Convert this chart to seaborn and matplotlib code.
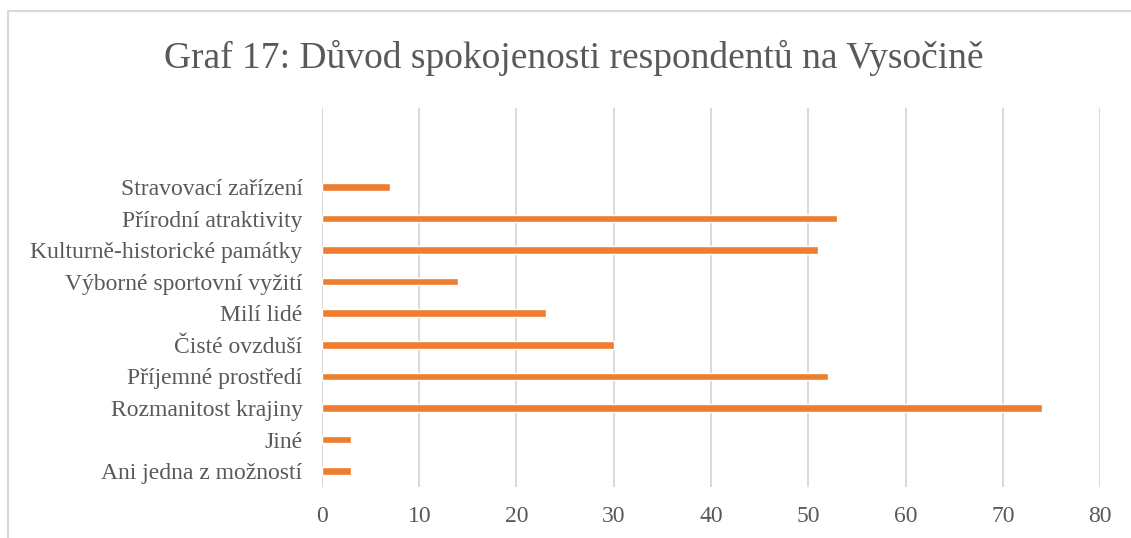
import matplotlib
matplotlib.use("Agg")
import matplotlib.pyplot as plt
from matplotlib.patches import Rectangle
import pandas as pd
import seaborn as sns

# data
categories = [
    "Stravovací zařízení",
    "Přírodní atraktivity",
    "Kulturně-historické památky",
    "Výborné sportovní vyžití",
    "Milí lidé",
    "Čisté ovzduší",
    "Příjemné prostředí",
    "Rozmanitost krajiny",
    "Jiné",
    "Ani jedna z možností",
]
counts = [7, 53, 51, 14, 23, 30, 52, 74, 3, 3]
x_ticks = [0, 10, 20, 30, 40, 50, 60, 70, 80]
title = "Graf 17: Důvod spokojenosti respondentů na Vysočině"

BAR_COLOR = "#ED7D31"
GRID_COLOR = "#D9D9D9"
TEXT_COLOR = "#595959"

sns.set_theme(style="whitegrid")
plt.rcParams["font.family"] = ["Liberation Serif", "DejaVu Serif"]

df = pd.DataFrame({"reason": categories, "count": counts})

fig = plt.figure(figsize=(11.31, 5.38), dpi=100)
ax = fig.add_axes([0.2847, 0.0948, 0.6879, 0.7045])

sns.barplot(data=df, y="reason", x="count", order=categories,
            color=BAR_COLOR, saturation=1, width=0.24, ax=ax)

# Excel leaves room for two empty slots above the first bar
ax.set_ylim(len(categories) - 0.5, -2.5)
ax.set_xlim(x_ticks[0], x_ticks[-1])
ax.set_xticks(x_ticks)
ax.set_xlabel("")
ax.set_ylabel("")

ax.grid(axis="x", color=GRID_COLOR, linewidth=1.4)
ax.grid(axis="y", visible=False)
ax.set_axisbelow(True)
for side in ax.spines.values():
    side.set_visible(False)
ax.axvline(0, color=GRID_COLOR, linewidth=1.4, zorder=0)

ax.tick_params(axis="y", length=0, pad=14, labelsize=17, labelcolor=TEXT_COLOR)
ax.tick_params(axis="x", length=0, pad=14, labelsize=17, labelcolor=TEXT_COLOR)

fig.text(0.507, 0.893, title, ha="center", va="center",
         fontsize=27, color=TEXT_COLOR)

# chart area frame (cut off at right and bottom in the reference)
fig.patches.append(Rectangle((8 / 1131, -0.05), 1.1, 1 - 11 / 538 + 0.05,
                             transform=fig.transFigure, fill=False,
                             edgecolor=GRID_COLOR, linewidth=1.5))

fig.savefig("out.png", dpi=100, facecolor="white")
plt.close(fig)
